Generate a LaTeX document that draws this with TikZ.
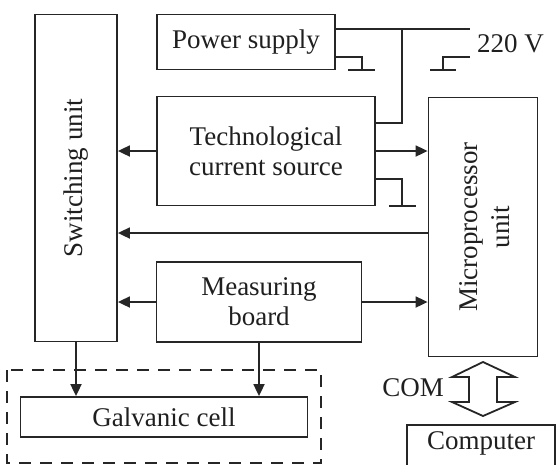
\documentclass[tikz,border=0pt]{standalone}
\usepackage{fontspec}
\setmainfont{Liberation Serif}
\usetikzlibrary{arrows.meta,calc}
\begin{document}
\begin{tikzpicture}[x=1pt,y=-1pt,
  line width=1.8pt, draw=black!85,
  every node/.style={font=\fontsize{27}{30}\selectfont, text=black!88},
  box/.style={draw, line width=1.8pt, inner sep=0pt, align=center},
  arr/.style={-{Triangle[length=12pt,width=11pt]}}]
\useasboundingbox (0,0) rectangle (556,464);
% blocks
\node[box, minimum width=82, minimum height=327] (sw) at (76,178) {};
\node[rotate=90] (swt) at (76,178) {Switching unit};
\node[box, minimum width=178, minimum height=55] (ps) at (246,42) {Power supply};
\node[box, minimum width=218, minimum height=109] (tcs) at (266,151) {Technological\\current source};
\node[box, minimum width=205, minimum height=80] (mb) at (259,302) {Measuring\\board};
\node[box, minimum width=109, minimum height=259] (mpu) at (483,227) {};
\node[rotate=90, align=center, font=\fontsize{27}{32}\selectfont] (mput) at (485,227) {Microprocessor\\unit};
\node[box, minimum width=287, minimum height=40] (gc) at (164,417) {Galvanic cell};
\node (comp) at (481,443) {Computer};
\draw (407,470) |- (555,425) -- (555,470);
% dashed enclosure
\draw[dash pattern=on 12pt off 9pt] (7,370) rectangle (321,463);
% arrows
\draw[arr] (tcs.west) -- (tcs.west -| sw.east);
\draw[arr] (tcs.east) -- (tcs.east -| mpu.west);
\coordinate (mpuo) at ($(mpu.west)+(0,6)$);
\draw[arr] (mpuo) -- (mpuo -| sw.east);
\draw[arr] (mb.west) -- (mb.west -| sw.east);
\draw[arr] (mb.east) -- (mb.east -| mpu.west);
\draw[arr] (sw.south) -- (sw.south |- gc.north);
\draw[arr] (mb.south) -- (mb.south |- gc.north);
% power lines
\coordinate (psa) at ($(ps.east)+(0,-13)$);
\coordinate (v220) at (470,29);
\draw (psa) -- (v220);
\node[anchor=west] (vt) at (473,44) {220 V};
\coordinate (tcsa) at ($(tcs.east)+(0,-28)$);
\draw (tcsa) -- (402,123) -- (402,29);
% grounds
\coordinate (psg) at ($(ps.east)+(0,15)$);
\draw (psg) -- (362,57) -- (362,70);
\draw (348,70) -- (375,70);
\draw (470,57) -- (443,57) -- (443,70);
\draw (430,70) -- (456,70);
\coordinate (tcsg) at ($(tcs.east)+(0,28)$);
\draw (tcsg) -- (402,179) -- (402,206);
\draw (389,206) -- (416,206);
% COM double arrow
\draw[line join=miter] (483,362) -- (515,377) -- (497,377) -- (497,402) -- (515,402) -- (483,416)
  -- (452,402) -- (469,402) -- (469,377) -- (452,377) -- cycle;
\node (com) at (413,388) {COM};
\end{tikzpicture}
\end{document}
